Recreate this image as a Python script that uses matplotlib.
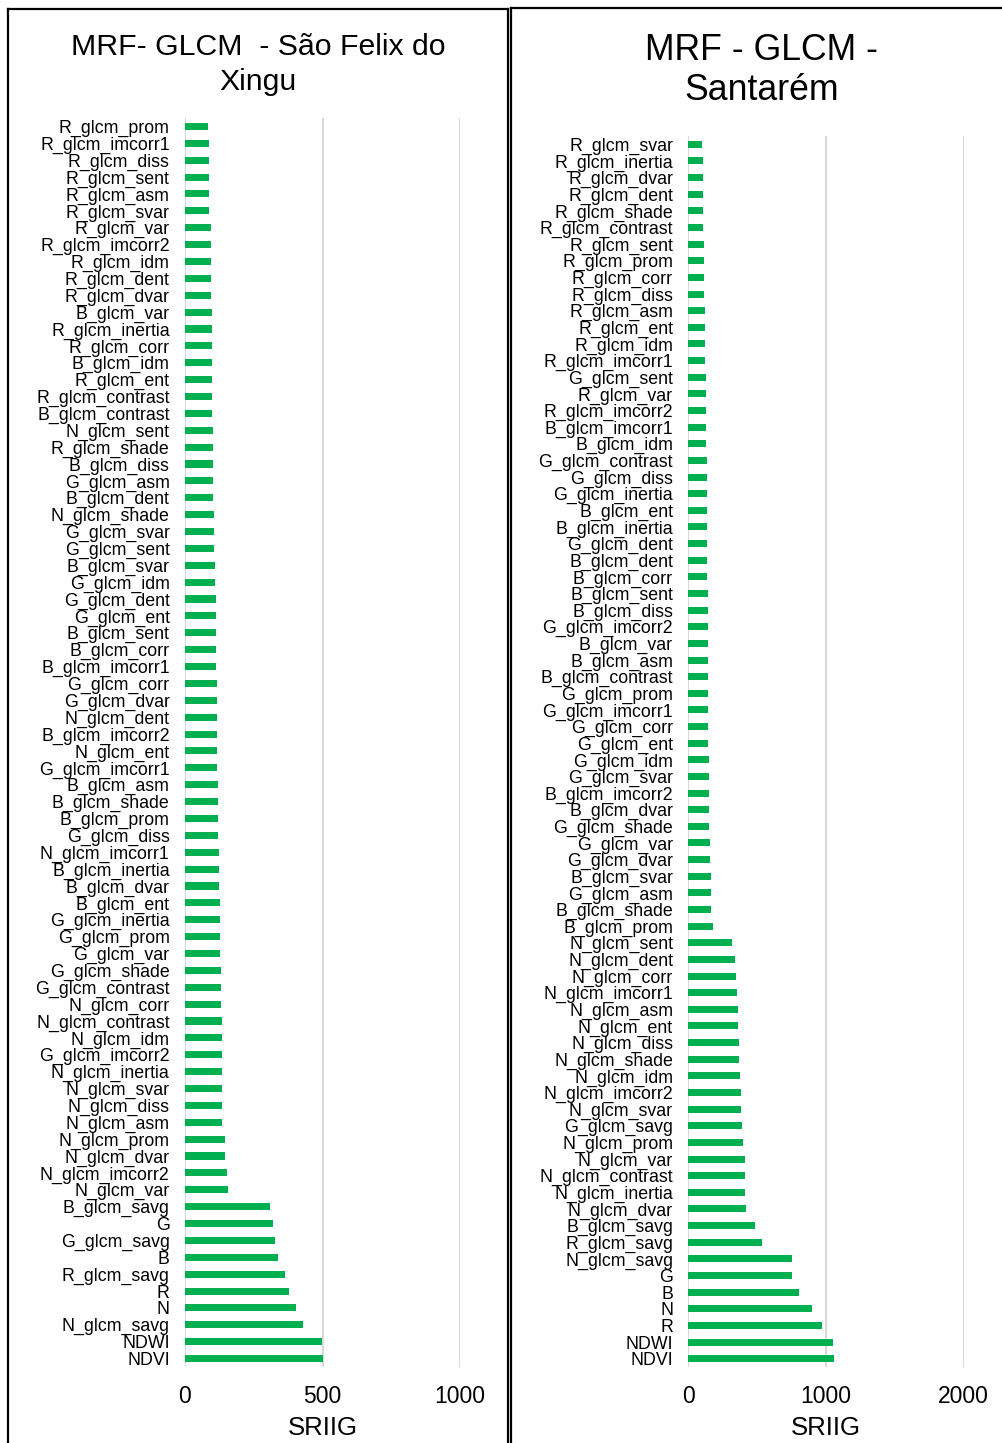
import matplotlib
matplotlib.use("Agg")
import matplotlib.pyplot as plt
from matplotlib.lines import Line2D

plt.rcParams['font.family'] = ['Liberation Sans', 'DejaVu Sans']

# ---- Data: São Felix do Xingu ----
sfx_labels = [
    "R_glcm_prom", "R_glcm_imcorr1", "R_glcm_diss", "R_glcm_sent", "R_glcm_asm",
    "R_glcm_svar", "R_glcm_var", "R_glcm_imcorr2", "R_glcm_idm", "R_glcm_dent",
    "R_glcm_dvar", "B_glcm_var", "R_glcm_inertia", "R_glcm_corr", "B_glcm_idm",
    "R_glcm_ent", "R_glcm_contrast", "B_glcm_contrast", "N_glcm_sent",
    "R_glcm_shade", "B_glcm_diss", "G_glcm_asm", "B_glcm_dent", "N_glcm_shade",
    "G_glcm_svar", "G_glcm_sent", "B_glcm_svar", "G_glcm_idm", "G_glcm_dent",
    "G_glcm_ent", "B_glcm_sent", "B_glcm_corr", "B_glcm_imcorr1", "G_glcm_corr",
    "G_glcm_dvar", "N_glcm_dent", "B_glcm_imcorr2", "N_glcm_ent",
    "G_glcm_imcorr1", "B_glcm_asm", "B_glcm_shade", "B_glcm_prom", "G_glcm_diss",
    "N_glcm_imcorr1", "B_glcm_inertia", "B_glcm_dvar", "B_glcm_ent",
    "G_glcm_inertia", "G_glcm_prom", "G_glcm_var", "G_glcm_shade",
    "G_glcm_contrast", "N_glcm_corr", "N_glcm_contrast", "N_glcm_idm",
    "G_glcm_imcorr2", "N_glcm_inertia",
    "N_glcm_svar", "N_glcm_diss", "N_glcm_asm", "N_glcm_prom", "N_glcm_dvar",
    "N_glcm_imcorr2", "N_glcm_var", "B_glcm_savg", "G", "G_glcm_savg", "B",
    "R_glcm_savg", "R", "N", "N_glcm_savg", "NDWI", "NDVI",
]
sfx_values = [
    82, 86, 86, 87, 87, 88, 93, 93, 95, 95,
    96, 97, 97, 99, 99, 100, 100, 100, 101,
    103, 103, 103, 103, 105, 106, 107, 109, 110, 111,
    111, 112, 112, 113, 115, 115, 115, 115, 116,
    116, 119, 119, 121, 121, 122, 123, 125, 126,
    126, 126, 128, 130, 131, 132, 133, 133, 133, 133,
    135, 136, 136, 144, 145, 154, 156, 308, 320, 328, 339,
    365, 377, 404, 430, 499, 503,
]

# ---- Data: Santarém ----
stm_labels = [
    "R_glcm_svar", "R_glcm_inertia", "R_glcm_dvar", "R_glcm_dent", "R_glcm_shade",
    "R_glcm_contrast", "R_glcm_sent", "R_glcm_prom", "R_glcm_corr", "R_glcm_diss",
    "R_glcm_asm", "R_glcm_ent", "R_glcm_idm", "R_glcm_imcorr1", "G_glcm_sent",
    "R_glcm_var", "R_glcm_imcorr2", "B_glcm_imcorr1", "B_glcm_idm",
    "G_glcm_contrast", "G_glcm_diss", "G_glcm_inertia", "B_glcm_ent",
    "B_glcm_inertia", "G_glcm_dent", "B_glcm_dent", "B_glcm_corr", "B_glcm_sent",
    "B_glcm_diss", "G_glcm_imcorr2", "B_glcm_var", "B_glcm_asm",
    "B_glcm_contrast", "G_glcm_prom", "G_glcm_imcorr1", "G_glcm_corr",
    "G_glcm_ent", "G_glcm_idm", "G_glcm_svar", "B_glcm_imcorr2", "B_glcm_dvar",
    "G_glcm_shade", "G_glcm_var", "G_glcm_dvar", "B_glcm_svar", "G_glcm_asm",
    "B_glcm_shade", "B_glcm_prom", "N_glcm_sent", "N_glcm_dent", "N_glcm_corr",
    "N_glcm_imcorr1", "N_glcm_asm", "N_glcm_ent", "N_glcm_diss", "N_glcm_shade",
    "N_glcm_idm", "N_glcm_imcorr2", "N_glcm_svar", "G_glcm_savg", "N_glcm_prom",
    "N_glcm_var", "N_glcm_contrast", "N_glcm_inertia", "N_glcm_dvar",
    "B_glcm_savg", "R_glcm_savg", "N_glcm_savg", "G", "B", "N", "R", "NDWI", "NDVI",
]
stm_values = [
    100, 107, 109, 109, 109, 109, 111, 113, 116, 116,
    118, 121, 121, 121, 126, 126, 128, 128, 130,
    133, 133, 135, 135, 138, 138, 138, 138, 140,
    140, 140, 140, 142, 142, 142, 145, 145,
    145, 147, 150, 150, 152, 152, 157, 157, 164, 166,
    166, 176, 320, 339, 349, 356, 359, 359, 368, 371,
    378, 380, 385, 388, 395, 412, 412, 414, 419,
    482, 533, 751, 753, 801, 896, 971, 1053, 1060,
]

W, H = 1003, 1443
fig = plt.figure(figsize=(W / 100, H / 100), dpi=100)

GREEN = "#00B050"
GRID = "#D9D9D9"


def fx(px):
    return px / W


def fy(py):
    return 1 - py / H


def panel(left_px, right_px, top_px, bottom_px, labels, values, xmax, ticks):
    ax = fig.add_axes([fx(left_px), fy(bottom_px), fx(right_px - left_px),
                       (bottom_px - top_px) / H])
    y = list(range(len(labels)))
    ax.barh(y, values, height=0.42, color=GREEN, zorder=3)
    ax.set_ylim(len(labels) - 0.5, -0.5)
    ax.set_xlim(0, xmax)
    ax.set_yticks(y)
    ax.set_yticklabels(labels, fontsize=12.8)
    ax.set_xticks(ticks)
    ax.set_xticklabels([str(t) for t in ticks], fontsize=16.5)
    ax.tick_params(axis='y', length=0, pad=11)
    ax.tick_params(axis='x', length=0, pad=13)
    for s in ax.spines.values():
        s.set_visible(False)
    for t in ticks:
        ax.axvline(t, color=GRID, lw=1.5, zorder=1)
    ax.set_xlabel("SRIIG", fontsize=18.5, labelpad=6)
    return ax


panel(185, 460, 118, 1367, sfx_labels, sfx_values, 1000, [0, 500, 1000])
panel(688.3, 963.7, 136, 1367, stm_labels, stm_values, 2000, [0, 1000, 2000])

# Titles
fig.text(fx(258), fy(47), "MRF- GLCM  - São Felix do", ha='center', va='center', fontsize=21.8)
fig.text(fx(258), fy(82), "Xingu", ha='center', va='center', fontsize=21.8)
fig.text(fx(762), fy(50), "MRF - GLCM -", ha='center', va='center', fontsize=25.7)
fig.text(fx(762), fy(91), "Santarém", ha='center', va='center', fontsize=25.7)

# Panel borders
def line(x0, y0, x1, y1, lw=1.6):
    fig.add_artist(Line2D([fx(x0), fx(x1)], [fy(y0), fy(y1)], color='black', lw=lw,
                          transform=fig.transFigure))

line(8, 9, 508, 9)
line(8, 9, 8, 1443)
line(508, 9, 508, 1443)
line(511.5, 8, 1003, 8)
line(511.5, 8, 511.5, 1443)

fig.savefig("out.png", dpi=100)
